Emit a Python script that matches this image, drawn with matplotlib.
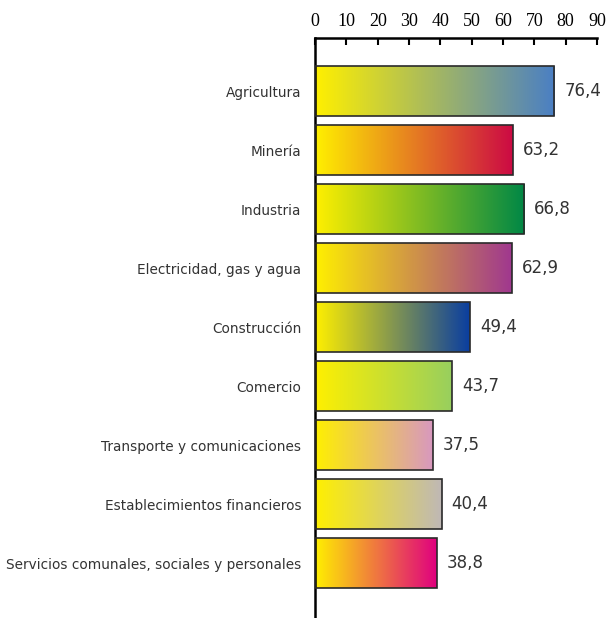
import matplotlib.pyplot as plt
import matplotlib.colors as mcolors
import numpy as np

# sectores y valores
sectores = ["Agricultura", "Minería", "Industria", "Electricidad, gas y agua",
            "Construcción", "Comercio", "Transporte y comunicaciones",
            "Establecimientos financieros",
            "Servicios comunales, sociales y personales"]
valores = [76.4, 63.2, 66.8, 62.9, 49.4, 43.7, 37.5, 40.4, 38.8]
color_final = ["#4a7fc4", "#cc0a44", "#008746", "#a0388f", "#0a3ea0",
               "#98cf5e", "#d898bf", "#bfb8b6", "#e0007f"]
color_inicio = "#fff000"
ticks_x = [0, 10, 20, 30, 40, 50, 60, 70, 80, 90]

fig = plt.figure(figsize=(6.06, 6.18), dpi=100)
ax = fig.add_axes([0.52, 0.0, 0.465, 0.9385])

pos = np.arange(len(sectores))
barras = ax.barh(pos, valores, height=0.86, facecolor="none",
                 edgecolor="#2a2a2a", linewidth=1.2, zorder=3)

# relleno degradado dentro de cada barra
for b, c in zip(barras, color_final):
    cmap = mcolors.LinearSegmentedColormap.from_list("g", [color_inicio, c])
    x0, y0 = b.get_x(), b.get_y()
    w, h = b.get_width(), b.get_height()
    grad = np.linspace(0, 1, 256).reshape(1, -1)
    im = ax.imshow(grad, cmap=cmap, aspect="auto", extent=[x0, x0 + w, y0 + h, y0],
                   zorder=2, interpolation="bilinear")
    im.set_clip_path(b)

for p, v in zip(pos, valores):
    ax.text(v + 3.2, p, f"{v:.1f}".replace(".", ","), va="center", ha="left",
            fontsize=12, color="#333333")

ax.set_xlim(0, 90)
ax.set_ylim(8.93, -0.9)
ax.set_yticks(pos)
ax.set_yticklabels(sectores, fontsize=9.8, color="#333333")
ax.tick_params(axis="y", length=0, pad=10)

ax.xaxis.tick_top()
ax.set_xticks(ticks_x)
ax.set_xticklabels([str(t) for t in ticks_x], family="Liberation Serif", fontsize=13)
ax.tick_params(axis="x", direction="in", length=5, width=1.5, pad=6)

for s in ["right", "bottom"]:
    ax.spines[s].set_visible(False)
ax.spines["top"].set_linewidth(1.8)
ax.spines["left"].set_linewidth(1.8)

fig.savefig("out.png", dpi=100)
